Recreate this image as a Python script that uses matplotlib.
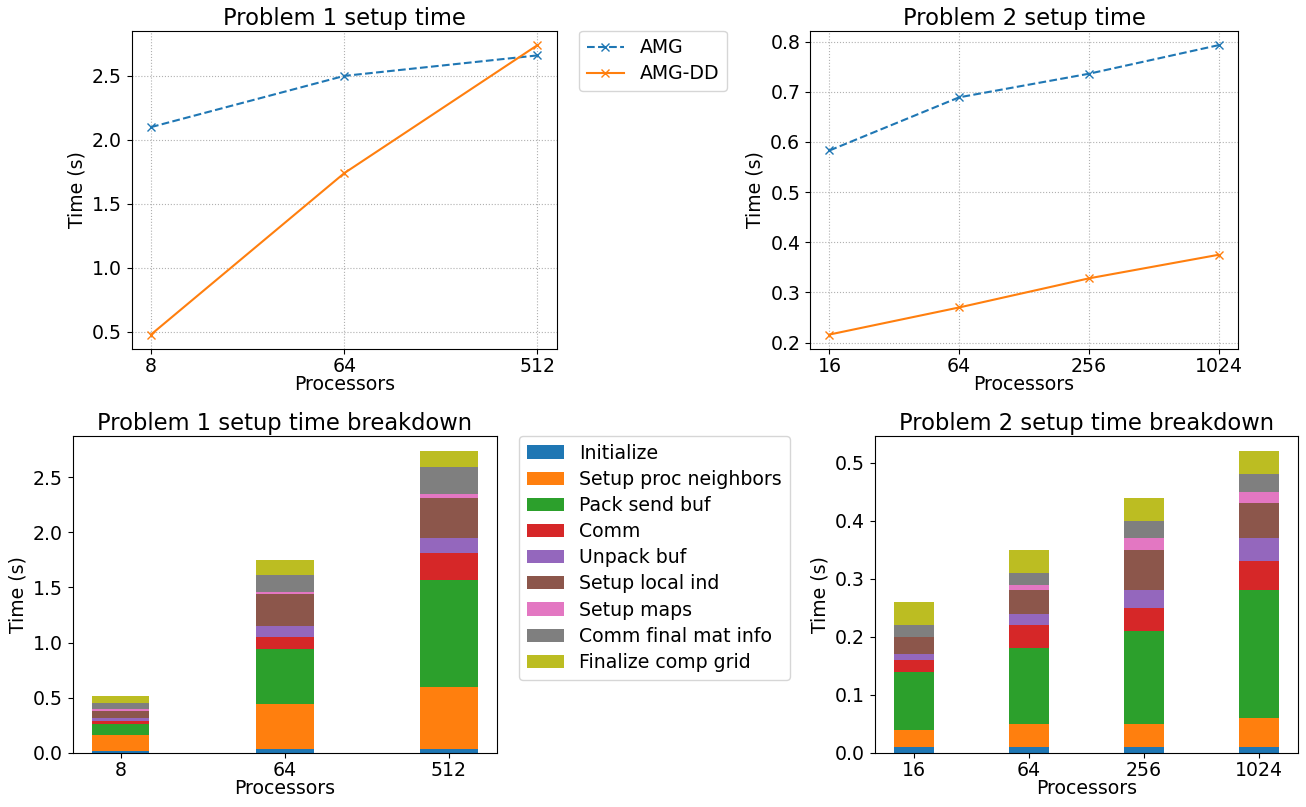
import numpy as np
import matplotlib
matplotlib.use("Agg")
import matplotlib.pyplot as plt

# ---------------- data ----------------
p1_procs = ["8", "64", "512"]
p2_procs = ["16", "64", "256", "1024"]

p1_amg = [2.10, 2.50, 2.66]
p1_amgdd = [0.48, 1.74, 2.74]
p2_amg = [0.583, 0.689, 0.736, 0.793]
p2_amgdd = [0.216, 0.270, 0.328, 0.375]

components = ["Initialize", "Setup proc neighbors", "Pack send buf", "Comm",
              "Unpack buf", "Setup local ind", "Setup maps",
              "Comm final mat info", "Finalize comp grid"]

# per-component times, one list per processor count
p1_initialize = [0.02, 0.033, 0.033]
p1_neighbors = [0.14, 0.41, 0.567]
p1_pack = [0.10, 0.50, 0.97]
p1_comm = [0.03, 0.11, 0.24]
p1_unpack = [0.025, 0.10, 0.14]
p1_local_ind = [0.065, 0.29, 0.365]
p1_maps = [0.02, 0.02, 0.035]
p1_comm_final = [0.05, 0.15, 0.24]
p1_finalize = [0.07, 0.14, 0.146]

p2_initialize = [0.01, 0.01, 0.01, 0.01]
p2_neighbors = [0.03, 0.04, 0.04, 0.05]
p2_pack = [0.10, 0.13, 0.16, 0.22]
p2_comm = [0.02, 0.04, 0.04, 0.05]
p2_unpack = [0.01, 0.02, 0.03, 0.04]
p2_local_ind = [0.03, 0.04, 0.07, 0.06]
p2_maps = [0.00, 0.01, 0.02, 0.02]
p2_comm_final = [0.02, 0.02, 0.03, 0.03]
p2_finalize = [0.04, 0.04, 0.04, 0.04]

p1_parts = [p1_initialize, p1_neighbors, p1_pack, p1_comm, p1_unpack,
            p1_local_ind, p1_maps, p1_comm_final, p1_finalize]
p2_parts = [p2_initialize, p2_neighbors, p2_pack, p2_comm, p2_unpack,
            p2_local_ind, p2_maps, p2_comm_final, p2_finalize]

# ---------------- figure ----------------
plt.rcParams['font.size'] = 13.6
W, H = 1306, 807
fig = plt.figure(figsize=(W / 100, H / 100), dpi=100)


def axes_px(left, top, right, bottom):
    return fig.add_axes([left / W, 1 - bottom / H, (right - left) / W, (bottom - top) / H])


ax1 = axes_px(131.7, 30.7, 556.7, 349)
ax2 = axes_px(810, 30.7, 1238, 349)
ax3 = axes_px(72.7, 436, 497, 753)
ax4 = axes_px(874.5, 436, 1298, 753)


def line_panel(ax, procs, amg, amgdd, title):
    x = np.arange(len(procs))
    ax.plot(x, amg, 'x--', color='C0', label='AMG')
    ax.plot(x, amgdd, 'x-', color='C1', label='AMG-DD')
    ax.set_xticks(x)
    ax.set_xticklabels(procs)
    ax.tick_params(axis='x', pad=2.5)
    ax.grid(True, linestyle=':', color='#b0b0b0', linewidth=0.8)
    ax.set_title(title, pad=4)
    ax.set_xlabel("Processors", labelpad=-1)
    ax.set_ylabel("Time (s)")


line_panel(ax1, p1_procs, p1_amg, p1_amgdd, "Problem 1 setup time")
line_panel(ax2, p2_procs, p2_amg, p2_amgdd, "Problem 2 setup time")

h, l = ax1.get_legend_handles_labels()
fig.legend(h, l, loc='upper left', bbox_to_anchor=(579 / W, 1 - 30.7 / H),
           bbox_transform=fig.transFigure, borderaxespad=0, labelspacing=0.38)


def bar_panel(ax, procs, parts, title):
    x = np.arange(len(procs))
    bottom = np.zeros(len(procs))
    for i, (name, vals) in enumerate(zip(components, parts)):
        ax.bar(x, vals, 0.35, bottom=bottom, color=f'C{i}', label=name)
        bottom = bottom + np.array(vals)
    ax.set_xticks(x)
    ax.set_xticklabels(procs)
    ax.tick_params(axis='x', pad=2.5)
    ax.set_title(title, pad=4)
    ax.set_xlabel("Processors", labelpad=-1)
    ax.set_ylabel("Time (s)")


bar_panel(ax3, p1_procs, p1_parts, "Problem 1 setup time breakdown")
bar_panel(ax4, p2_procs, p2_parts, "Problem 2 setup time breakdown")

h, l = ax3.get_legend_handles_labels()
fig.legend(h, l, loc='upper left', bbox_to_anchor=(519 / W, 1 - 436 / H),
           bbox_transform=fig.transFigure, borderaxespad=0, labelspacing=0.38)

fig.savefig("out.png", dpi=100)
